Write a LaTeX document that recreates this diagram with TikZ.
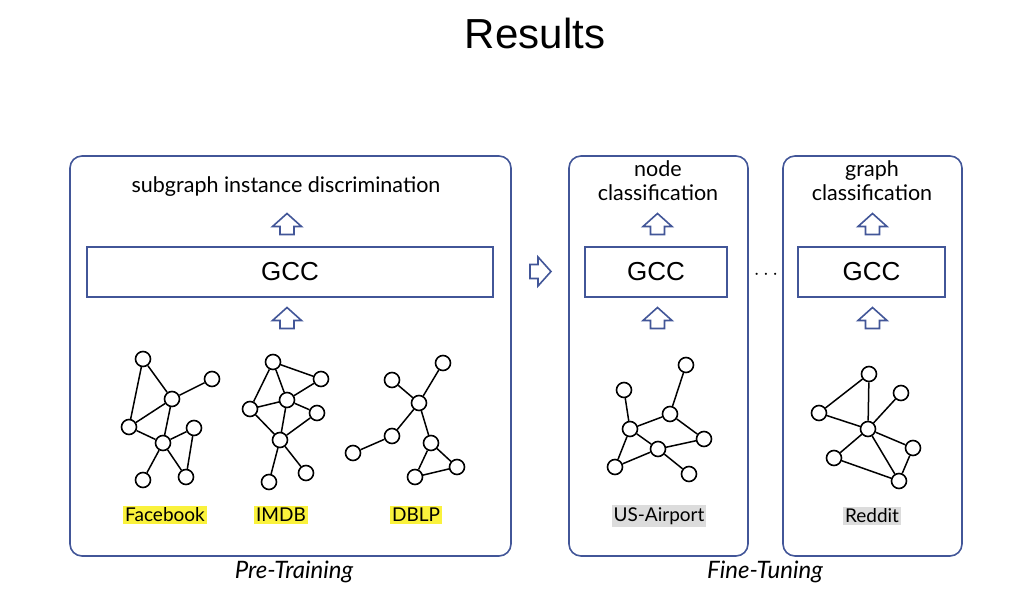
\documentclass[tikz,border=0pt]{standalone}
\usepackage{fontspec}
\setmainfont{Lato}
\newfontfamily\helv{Liberation Sans}

\definecolor{boxblue}{RGB}{66,86,152}
\definecolor{hlyellow}{RGB}{250,242,60}
\definecolor{hlgray}{RGB}{220,220,220}

\tikzset{every picture/.style={line width=1.5pt}}
\tikzset{
  panel/.style={draw=boxblue, line width=1.6pt, rounded corners=12pt},
  gccbox/.style={draw=boxblue, line width=1.6pt, inner sep=0pt, font=\helv\fontsize{26}{28}\selectfont},
  tasklabel/.style={align=center, inner sep=0pt, font=\fontsize{21.5}{24}\selectfont},
  vtx/.style={circle, draw, line width=1.6pt, minimum size=15pt, inner sep=0pt, fill=white},
  dataset/.style={inner sep=2pt, font=\fontsize{19}{21}\selectfont},
  stage/.style={inner sep=0pt, font=\itshape\fontsize{24}{26}\selectfont},
  hollowarrow/.pic={
    \draw[boxblue, line width=1.6pt, line join=miter, fill=white]
      (0,10.5) -- (14.5,-2.5) -- (7,-2.5) -- (7,-10.5) -- (-7,-10.5) -- (-7,-2.5) -- (-14.5,-2.5) -- cycle;
  },
}

\begin{document}
\begin{tikzpicture}[x=1pt,y=1pt,yscale=-1,xscale=1]
    \useasboundingbox (0,0) rectangle (1015,610);

    % Title
    \node (title) at (535,33) {\helv\fontsize{42}{46}\selectfont Results};

    %Shape: Rounded Rectangle [pre-training panel]
    \draw[panel] (70,156) rectangle (511,556);
    %Shape: Rounded Rectangle [fine-tuning panels]
    \draw[panel] (569,156) rectangle (748,556);
    \draw[panel] (783,156) rectangle (962,556);

    % GCC boxes
    \node[gccbox, minimum width=406pt, minimum height=50pt] (gccpre) at (290,272) {GCC};
    \node[gccbox, minimum width=142pt, minimum height=50pt] (gccnode) at (656,272) {GCC};
    \node[gccbox, minimum width=147pt, minimum height=50pt] (gccgraph) at (871.5,272) {GCC};

    % Task texts
    \node[tasklabel] (taskpre) at (286,187) {subgraph instance discrimination};
    \node[tasklabel] (tasknode) at (658,181) {node\\classification};
    \node[tasklabel] (taskgraph) at (872,181) {graph\\classification};

    % Block arrows
    \pic at (287,224) {hollowarrow};
    \pic at (287,318) {hollowarrow};
    \pic at (657.5,224) {hollowarrow};
    \pic at (657.5,318) {hollowarrow};
    \pic at (872.5,224) {hollowarrow};
    \pic at (872.5,318) {hollowarrow};
    \pic[rotate=-90] at (540.5,271.5) {hollowarrow};

    % Dots
    \node (dots) at (766,275) {\fontsize{20}{22}\selectfont $\cdots$};

    %Graph: Facebook
    \node[vtx] (fa) at (143,359) {};
    \node[vtx] (fb) at (212,379) {};
    \node[vtx] (fc) at (172,399) {};
    \node[vtx] (fd) at (129,427) {};
    \node[vtx] (fe) at (163,443) {};
    \node[vtx] (ff) at (194,428) {};
    \node[vtx] (fg) at (143,480) {};
    \node[vtx] (fh) at (186,477) {};
    \draw (fa) -- (fc) (fa) -- (fd) (fc) -- (fb) (fc) -- (fd) (fc) -- (fe)
          (fd) -- (fe) (fe) -- (ff) (ff) -- (fh) (fe) -- (fg) (fe) -- (fh);

    %Graph: IMDB
    \node[vtx] (ia) at (273,362) {};
    \node[vtx] (ib) at (321,379) {};
    \node[vtx] (ic) at (287,400) {};
    \node[vtx] (id) at (250,409) {};
    \node[vtx] (ie) at (317,413) {};
    \node[vtx] (if) at (280,440) {};
    \node[vtx] (ig) at (269,482) {};
    \node[vtx] (ih) at (306,473) {};
    \draw (ia) -- (ib) (ia) -- (id) (ia) -- (ic) (ic) -- (ib) (id) -- (ic)
          (ic) -- (ie) (ic) -- (if) (id) -- (if) (ie) -- (if) (if) -- (ig) (if) -- (ih);

    %Graph: DBLP
    \node[vtx] (da) at (443,363) {};
    \node[vtx] (db) at (392,380) {};
    \node[vtx] (dc) at (419,403) {};
    \node[vtx] (dd) at (392,436) {};
    \node[vtx] (de) at (353,453) {};
    \node[vtx] (df) at (431,443) {};
    \node[vtx] (dg) at (457,467) {};
    \node[vtx] (dh) at (415,477) {};
    \draw (da) -- (dc) (db) -- (dc) (dc) -- (dd) (dd) -- (de) (dc) -- (df)
          (df) -- (dg) (df) -- (dh) (dh) -- (dg);

    %Graph: US-Airport
    \node[vtx] (ua) at (686,365) {};
    \node[vtx] (ub) at (624,390) {};
    \node[vtx] (uc) at (670,414) {};
    \node[vtx] (ud) at (630,429) {};
    \node[vtx] (ue) at (704,439) {};
    \node[vtx] (uf) at (658,449) {};
    \node[vtx] (ug) at (615,467) {};
    \node[vtx] (uh) at (689,474) {};
    \draw (ua) -- (uc) (ub) -- (ud) (ud) -- (uc) (uc) -- (ue) (ud) -- (uf)
          (ud) -- (ug) (ug) -- (uf) (uf) -- (ue) (uf) -- (uh);

    %Graph: Reddit
    \node[vtx] (ra) at (869,374) {};
    \node[vtx] (rb) at (901,393) {};
    \node[vtx] (rc) at (819,413) {};
    \node[vtx] (rd) at (868,429) {};
    \node[vtx] (re) at (913,448) {};
    \node[vtx] (rf) at (834,458) {};
    \node[vtx] (rg) at (899,481) {};
    \draw (ra) -- (rc) (ra) -- (rd) (rc) -- (rd) (rb) -- (rd) (rd) -- (re)
          (rd) -- (rf) (rd) -- (rg) (re) -- (rg) (rf) -- (rg);

    % Dataset labels
    \node[dataset, fill=hlyellow] (facebook) at (165,515) {Facebook};
    \node[dataset, fill=hlyellow] (imdb) at (281,515) {IMDB};
    \node[dataset, fill=hlyellow] (dblp) at (416,515) {DBLP};
    \node[dataset, fill=hlgray] (usairport) at (659,516) {US-Airport};
    \node[dataset, fill=hlgray] (reddit) at (872,516) {Reddit};

    % Stage labels
    \node[stage] (pretrain) at (294,572) {Pre-Training};
    \node[stage] (finetune) at (765,572) {Fine-Tuning};

\end{tikzpicture}
\end{document}
